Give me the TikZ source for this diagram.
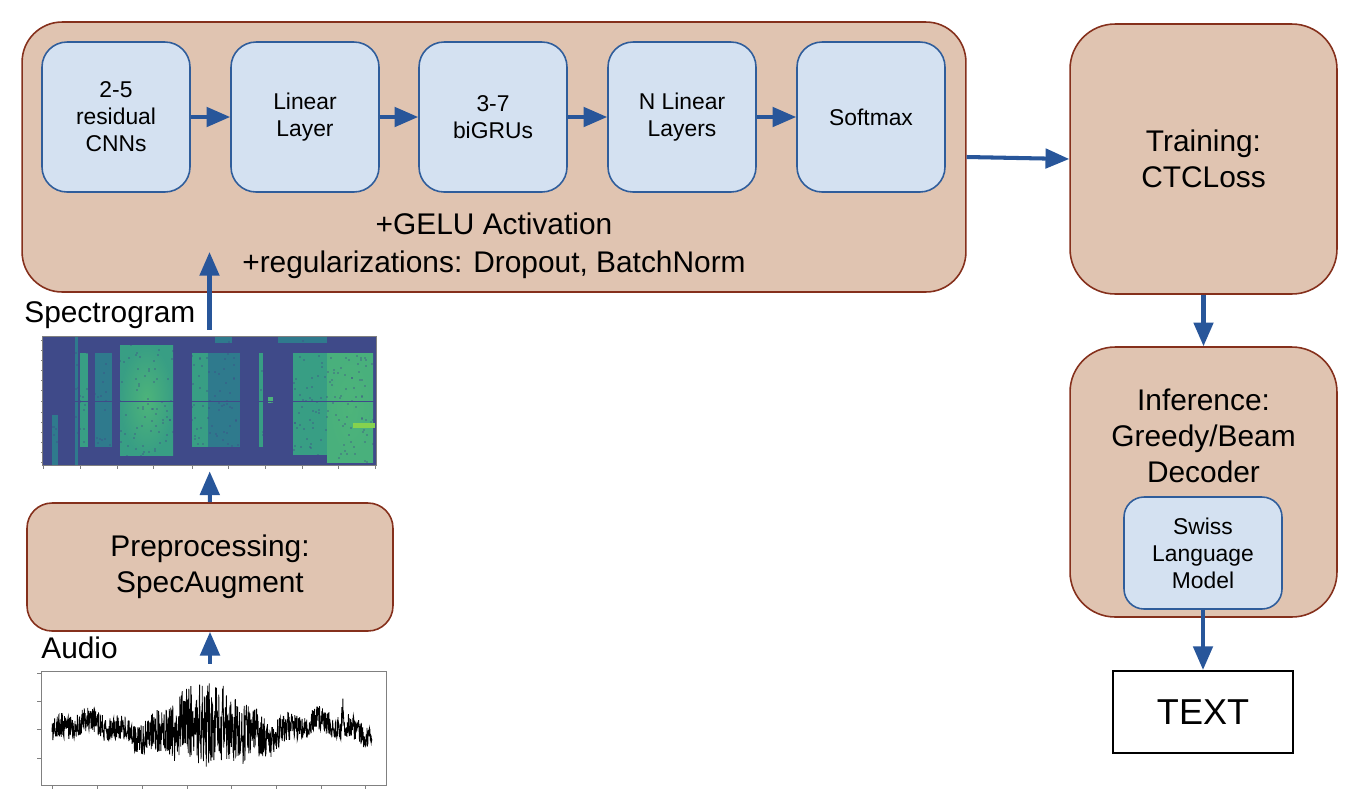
\documentclass[tikz,border=0pt]{standalone}
\usepackage{fontspec}
\setmainfont{Liberation Sans}
\usetikzlibrary{arrows.meta}
\definecolor{tanfill}{HTML}{E0C4B1}
\definecolor{tanline}{HTML}{85301C}
\definecolor{bluefill}{HTML}{D4E1F1}
\definecolor{blueline}{HTML}{2F5D9B}
\definecolor{flow}{HTML}{28569A}
\definecolor{vdark}{HTML}{3F4A89}
\definecolor{vteal}{HTML}{2F7A8D}
\definecolor{vgreen}{HTML}{389E84}
\definecolor{vbright}{HTML}{4DB47A}
\definecolor{vlime}{HTML}{86D24E}

\begin{document}
\begin{tikzpicture}[x=0.02cm, y=-0.02cm,
    stage/.style={draw=tanline, fill=tanfill, line width=0.9pt, rounded corners=0.8cm,
        font=\fontsize{17}{20.5}\selectfont, align=center},
    layer/.style={draw=blueline, fill=bluefill, line width=0.9pt, rounded corners=0.5cm,
        minimum width=2.96cm, minimum height=3cm, font=\fontsize{13}{15.3}\selectfont, align=center},
    flowarrow/.style={draw=flow, line width=2.3pt, -{Triangle[length=13.5pt,width=11pt]}},
    caption/.style={font=\fontsize{17}{20}\selectfont, inner sep=0pt}]
    \useasboundingbox (0,0) rectangle (1358,802);

    \node[stage, minimum width=18.88cm, minimum height=5.4cm] (model) at (494,157) {};
    \node[layer] (cnn) at (116,117) {2-5\\residual\\CNNs};
    \node[layer] (lin) at (305,117) {Linear\\Layer};
    \node[layer] (gru) at (493,117) {3-7\\biGRUs};
    \node[layer] (nlin) at (682,117) {N Linear\\Layers};
    \node[layer] (soft) at (871,117) {Softmax};
    \node[align=center, font=\fontsize{17}{21.5}\selectfont] (extras) at (494,246)
        {+GELU Activation\\+regularizations: Dropout, BatchNorm};

    \node[stage, rounded corners=0.9cm, minimum width=5.34cm, minimum height=5.4cm] (train) at (1203.5,159) {Training:\\CTCLoss};
    \node[stage, rounded corners=0.9cm, minimum width=5.34cm, minimum height=5.4cm] (infer) at (1203.5,482) {};
    \node[align=center, font=\fontsize{17}{20.5}\selectfont] (infertext) at (1203.5,436) {Inference:\\Greedy/Beam\\Decoder};
    \node[layer, rounded corners=0.4cm, minimum width=3.16cm, minimum height=2.24cm] (lm) at (1203,553) {Swiss\\Language\\Model};
    \node[draw=black, line width=1.2pt, minimum width=3.6cm, minimum height=1.64cm,
        font=\fontsize{20.5}{24}\selectfont] (out) at (1203,712) {TEXT};

    \node[stage, rounded corners=0.5cm, minimum width=7.32cm, minimum height=2.56cm] (prep) at (210,567) {Preprocessing:\\SpecAugment};

    % spectrogram
    \node[caption, anchor=base west] (speclabel) at (24,322) {Spectrogram};
    \node[fill=vdark, inner sep=0pt, minimum width=6.66cm, minimum height=2.56cm] (spec) at (209.5,401) {};
    \fill[vteal] (52,415) rectangle (58,465);
    \fill[vteal] (75,337) rectangle (78,465);
    \fill[vgreen] (80,353) rectangle (88,447);
    \fill[vteal] (95,353) rectangle (112,447);
    \shade[inner color=vbright, outer color=vgreen] (120,345) rectangle (173,455);
    \fill[vgreen] (192,353) rectangle (208,447);
    \fill[vteal] (208,353) rectangle (240,447);
    \fill[vteal] (215,337) rectangle (232,343);
    \fill[vgreen] (259,353) rectangle (263,447);
    \fill[vbright] (268,397) rectangle (273,403);
    \fill[vteal] (278,337) rectangle (327,343);
    \fill[vgreen] (293,353) rectangle (327,455);
    \shade[inner color=vbright, outer color=vbright!80!vgreen] (327,353) rectangle (373,462);
    \fill[vlime] (353,423) rectangle (375,428);
    \pgfmathsetseed{3}
    \foreach \i in {1,...,500}{
        \pgfmathsetmacro{\sx}{44+331*rnd}
        \pgfmathsetmacro{\sy}{338+125*rnd}
        \fill[vdark, opacity=0.35] (\sx,\sy) rectangle +(2,2);
    }
    \draw[vdark, line width=0.4pt] (spec.west |- 0,401) -- (spec.east |- 0,401);
    \draw[gray, line width=0.3pt] (spec.south west) rectangle (spec.north east);
    \foreach \t in {43,80,117,153,192,228,265,302,338,375}
        \draw[gray, line width=0.4pt] (\t,465) -- (\t,469);
    \foreach \t in {340,350,360,370,380,390,401,412,422,432,442,452,462}
        \draw[gray, line width=0.3pt] (41,\t) -- (43,\t);

    % audio
    \node[caption, anchor=base west] (audiolabel) at (41,658) {Audio};
    \node[draw=gray, line width=0.4pt, inner sep=0pt, minimum width=6.9cm, minimum height=2.28cm] (wave) at (213.5,728) {};
    \pgfmathsetseed{7}
    \draw[black, line width=0.45pt] plot[domain=52:372, samples=1100]
        (\x,{729 + 7*sin(\x*3.1) + 4*sin(\x*11) + (12 + 30*exp(-((\x-210)/48)^2))*rand - 25*max(0,1-abs(\x-343)/2)});
    \foreach \t in {673,701,729,758}
        \draw[gray, line width=0.4pt] (37,\t) -- (41,\t);
    \foreach \t in {52,97,142,187,231,276,321,365}
        \draw[gray, line width=0.4pt] (\t,785) -- (\t,789);

    % connectors
    \coordinate (modelin) at (209.5,252);
    \draw[flowarrow] (cnn) -- (lin);
    \draw[flowarrow] (lin) -- (gru);
    \draw[flowarrow] (gru) -- (nlin);
    \draw[flowarrow] (nlin) -- (soft);
    \draw[flowarrow] (model.east) -- (train.west);
    \draw[flowarrow] (train) -- (infer);
    \draw[flowarrow] (lm) -- (out);
    \draw[flowarrow, shorten <=0.14cm] (spec.north) -- (modelin);
    \draw[flowarrow, shorten >=0.12cm] (prep) -- (spec);
    \draw[flowarrow, shorten <=0.14cm] (wave.north -| prep) -- (prep);
\end{tikzpicture}
\end{document}
